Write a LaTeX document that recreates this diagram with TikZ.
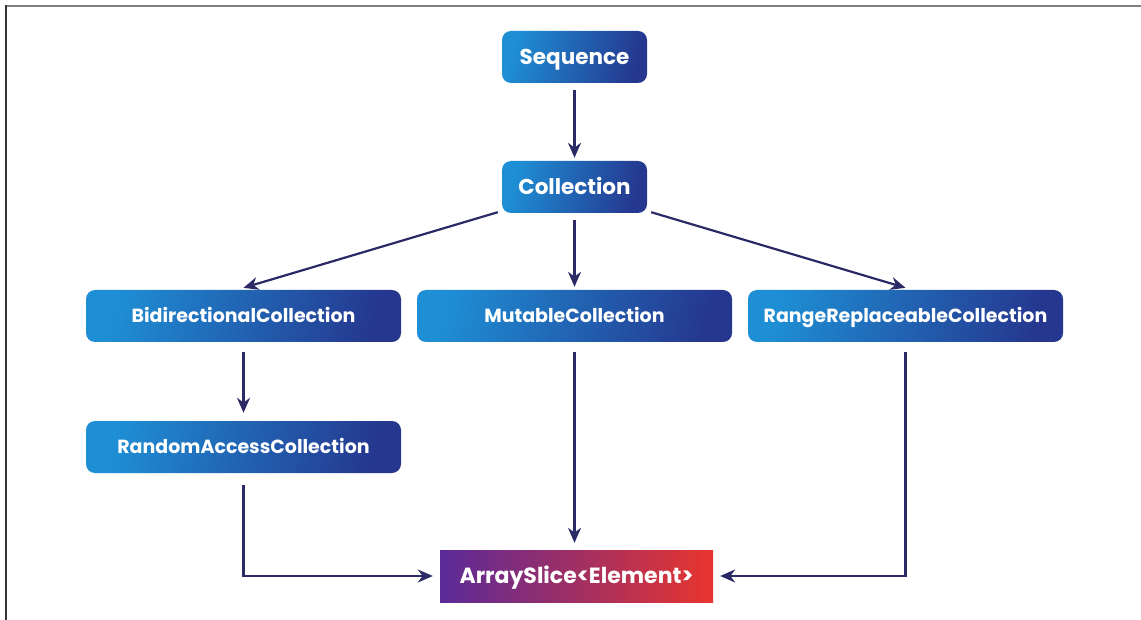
\documentclass[tikz,border=0pt]{standalone}
\usepackage{fontspec}
\setmainfont{Poppins}
\usetikzlibrary{arrows.meta}
\definecolor{linkcol}{HTML}{2B2A66}
\definecolor{bluelight}{HTML}{1E8FD5}
\definecolor{bluedark}{HTML}{25378F}
\definecolor{sliceleft}{HTML}{5A2A98}
\definecolor{sliceright}{HTML}{E8352E}
\tikzset{
  protobox/.style={rounded corners=9pt, left color=bluelight, right color=bluedark,
    shading angle=75, minimum height=52pt, inner sep=0pt,
    text height=13.3pt, text depth=0pt,
    text=white, font=\fontsize{19}{21}\selectfont\bfseries},
  topbox/.style={protobox, text height=15pt, font=\fontsize{21.5}{24}\selectfont\bfseries},
  typebox/.style={left color=sliceleft, right color=sliceright, minimum height=52pt,
    inner sep=0pt, text height=15.4pt, text depth=0pt,
    text=white, font=\fontsize{22}{24}\selectfont\bfseries},
  link/.style={draw=linkcol, line width=2.2pt, -{Stealth[length=15pt,width=13pt]}},
}
\begin{document}
\begin{tikzpicture}[x=1pt,y=-1pt]
\useasboundingbox (0,0) rectangle (1141,620);
% frame lines
\draw[gray, line width=1.6pt] (5,6) -- (1141,6);
\draw[black!80, line width=1.6pt] (6,5) -- (6,620);

\node[topbox, minimum width=145pt] (seq) at (574.5,57) {Sequence};
\node[topbox, minimum width=145pt] (coll) at (574.5,187) {Collection};
\node[protobox, minimum width=315pt] (bidi) at (243.5,316) {BidirectionalCollection};
\node[protobox, minimum width=315pt] (mut) at (574.5,316) {MutableCollection};
\node[protobox, minimum width=315pt] (rrc) at (905.5,316) {RangeReplaceableCollection};
\node[protobox, minimum width=315pt] (rac) at (243.5,447) {RandomAccessCollection};
\node[typebox, minimum width=273pt] (slice) at (576.5,576) {ArraySlice<Element>};

\coordinate (racturn) at (243.5,576);
\coordinate (rrcturn) at (905.5,576);

% (yshift is in page units: negative moves down)
\draw[link] ([yshift=-7pt]seq.south) -- ([yshift=3pt]coll.north);
\draw[link] ([xshift=-4pt,yshift=1pt]coll.south west) -- ([yshift=2pt]bidi.north);
\draw[link] ([yshift=-7pt]coll.south) -- ([yshift=3pt]mut.north);
\draw[link] ([xshift=4pt,yshift=1pt]coll.south east) -- ([yshift=2pt]rrc.north);
\draw[link] ([yshift=-10pt]bidi.south) -- ([yshift=8pt]rac.north);
\draw[link] ([yshift=-10pt]mut.south) -- ([yshift=7pt]mut.south |- slice.north);
\draw[link] ([yshift=-12pt]rac.south) -- (racturn) -- ([xshift=-7pt]slice.west);
\draw[link] ([yshift=-10pt]rrc.south) -- (rrcturn) -- ([xshift=7pt]slice.east);
\end{tikzpicture}
\end{document}
